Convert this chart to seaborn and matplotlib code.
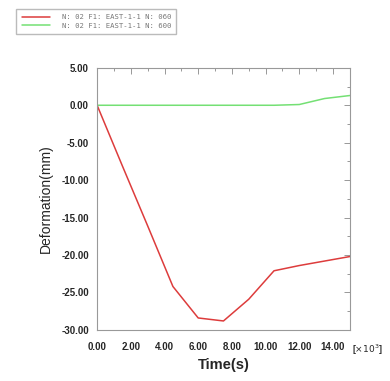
import numpy as np
import pandas as pd
import seaborn as sns
import matplotlib.pyplot as plt

# data (time in x10^3 s, deformation in mm)
time = [0.0, 1.5, 3.0, 4.5, 6.0, 7.5, 9.0, 10.5, 12.0, 13.5, 15.0]
red_vals = [0.0, -8.1, -16.1, -24.2, -28.4, -28.8, -25.9, -22.1, -21.4, -20.8, -20.2]
green_vals = [0.0, 0.0, 0.0, 0.0, 0.0, 0.0, 0.0, 0.0, 0.1, 0.9, 1.3]
labels = ["N: 02 F1: EAST-1-1 N: 060", "N: 02 F1: EAST-1-1 N: 600"]
colors = ["#dd3c3c", "#74e074"]
yticks = [5, 0, -5, -10, -15, -20, -25, -30]
xticks = [0, 2, 4, 6, 8, 10, 12, 14]

df = pd.DataFrame({
    "Time": time * 2,
    "Deformation": red_vals + green_vals,
    "series": [labels[0]] * len(time) + [labels[1]] * len(time),
})

sns.set_style("white")
plt.rcParams['font.family'] = ['Liberation Sans', 'DejaVu Sans']

fig = plt.figure(figsize=(3.9, 3.81), dpi=100)
ax = fig.add_axes([0.249, 0.134, 0.648, 0.688])
sns.lineplot(data=df, x="Time", y="Deformation", hue="series", palette=colors,
             linewidth=1.1, ax=ax, legend=False)

ax.set_xlim(0, 15)
ax.set_ylim(-30, 5)
ax.set_xticks(xticks)
ax.set_xticklabels([f"{v:.2f}" for v in xticks])
ax.set_yticks(yticks)
ax.set_yticklabels([f"{v:.2f}" for v in yticks])
ax.set_xticks(np.arange(0, 16, 1), minor=True)
ax.set_yticks(np.arange(-30, 5.1, 2.5), minor=True)
ax.tick_params(which="both", direction="in", top=True, right=True, color="#888888",
               labelsize=7, pad=6)
ax.tick_params(axis="x", pad=9)
ax.tick_params(which="major", length=4, width=0.6)
ax.tick_params(which="minor", length=2.5, width=0.6)
for lab in ax.get_xticklabels() + ax.get_yticklabels():
    lab.set_fontweight("bold")
    lab.set_fontstretch("condensed")
for s in ax.spines.values():
    s.set_color("#999999")
    s.set_linewidth(0.8)

ax.set_xlabel("Time(s)", fontsize=10.5, fontweight="bold", labelpad=4)
ax.set_ylabel("Deformation(mm)", fontsize=10, labelpad=6)
ax.text(1.07, -0.05, r"[$\times10^3$]", transform=ax.transAxes, fontsize=6.5,
        fontweight="bold", ha="center", va="top")

# legend box at top left
handles = [plt.Line2D([], [], color=c, lw=1.1) for c in colors]
leg = fig.legend(handles, labels, loc="upper left", bbox_to_anchor=(0.033, 0.985),
                 frameon=True, fancybox=False, edgecolor="#aaaaaa",
                 prop={"family": "DejaVu Sans Mono", "size": 5.2},
                 handlelength=4, borderpad=0.7, labelspacing=0.35, handletextpad=1.6)
for t in leg.get_texts():
    t.set_color("#777777")

fig.savefig("out.png", dpi=100)
